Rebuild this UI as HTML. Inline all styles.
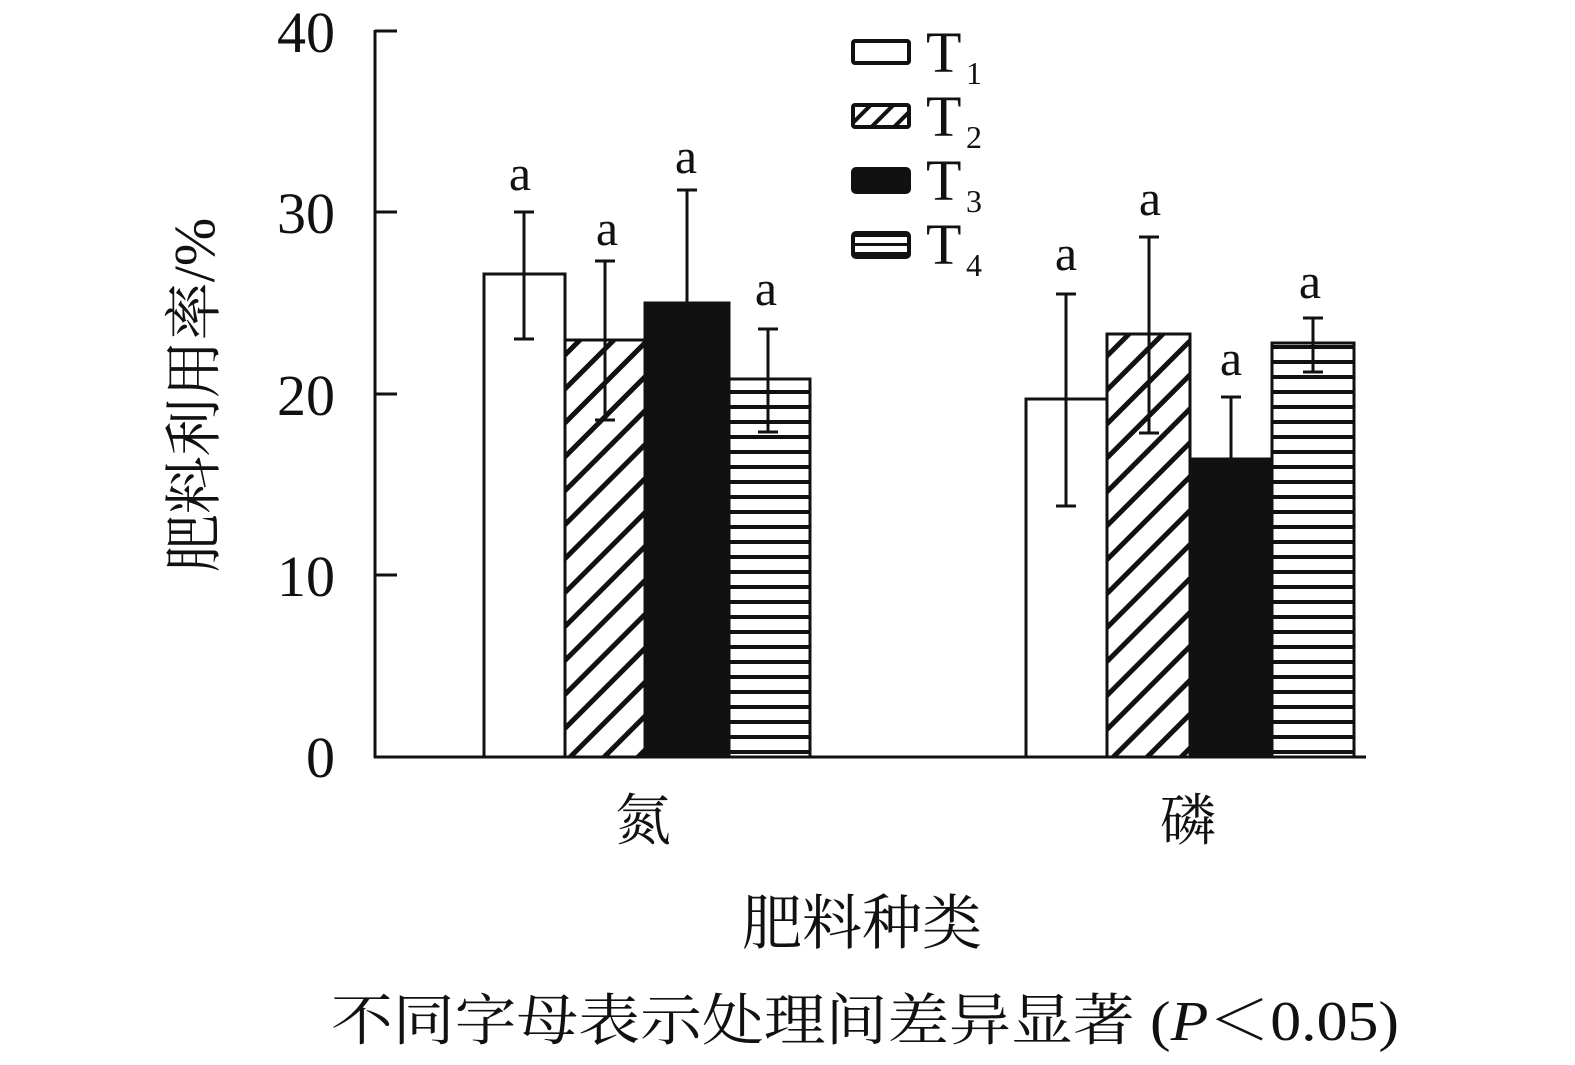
<!DOCTYPE html>
<html><head><meta charset="utf-8"><style>html,body{margin:0;padding:0;background:#fff}svg{display:block}</style></head>
<body>
<svg width="1575" height="1065" viewBox="0 0 1575 1065" xmlns="http://www.w3.org/2000/svg">
<defs>
<pattern id="diag" patternUnits="userSpaceOnUse" width="24" height="24" patternTransform="rotate(-45)">
<rect x="0" y="0" width="24" height="5" fill="#111"/>
</pattern>
<pattern id="horz" patternUnits="userSpaceOnUse" width="20" height="15">
<rect x="0" y="0" width="20" height="4" fill="#111"/>
</pattern>
<pattern id="diagS" patternUnits="userSpaceOnUse" width="16" height="16" patternTransform="rotate(-45)">
<rect x="0" y="0" width="16" height="4" fill="#111"/>
</pattern>
<pattern id="horzS" patternUnits="userSpaceOnUse" width="20" height="9">
<rect x="0" y="0" width="20" height="3" fill="#111"/>
</pattern>
</defs>
<g font-family="Liberation Serif, serif" fill="#111">
<g stroke="#111" stroke-width="3" fill="none">
<line x1="375" y1="30" x2="375" y2="758"/>
<line x1="374" y1="757" x2="1366" y2="757"/>
<line x1="375" y1="31" x2="397" y2="31"/>
<line x1="375" y1="212" x2="397" y2="212"/>
<line x1="375" y1="394" x2="397" y2="394"/>
<line x1="375" y1="575" x2="397" y2="575"/>
</g>
<g font-size="58" text-anchor="end">
<text x="335" y="52">40</text>
<text x="335" y="233">30</text>
<text x="335" y="415">20</text>
<text x="335" y="596">10</text>
<text x="335" y="777">0</text>
</g>
<g stroke="#111" stroke-width="3">
<rect x="484" y="274" width="81" height="483" fill="#fff"/>
<rect x="565" y="340" width="80" height="417" fill="url(#diag)"/>
<rect x="645" y="303" width="84" height="454" fill="#111"/>
<rect x="729" y="379" width="81" height="378" fill="url(#horz)"/>
<rect x="1026" y="399" width="81" height="358" fill="#fff"/>
<rect x="1107" y="334" width="83" height="423" fill="url(#diag)"/>
<rect x="1190" y="459" width="82" height="298" fill="#111"/>
<rect x="1272" y="343" width="82" height="414" fill="url(#horz)"/>
</g>
<g stroke="#111" stroke-width="3">
<path d="M524 212V339M514 212H534M514 339H534"/>
<path d="M605 261V420M595 261H615M595 420H615"/>
<path d="M687 190V303M677 190H697"/>
<path d="M768 329V432M758 329H778M758 432H778"/>
<path d="M1066 294V506M1056 294H1076M1056 506H1076"/>
<path d="M1149 237V433M1139 237H1159M1139 433H1159"/>
<path d="M1231 397V459M1221 397H1241"/>
<path d="M1313 318V372M1303 318H1323M1303 372H1323"/>
</g>
<g font-size="50" text-anchor="middle">
<text x="520" y="190">a</text>
<text x="607" y="245">a</text>
<text x="686" y="173">a</text>
<text x="766" y="305">a</text>
<text x="1066" y="270">a</text>
<text x="1150" y="215">a</text>
<text x="1231" y="375">a</text>
<text x="1310" y="298">a</text>
</g>
<g stroke="#111" stroke-width="4">
<rect x="853" y="41" width="56" height="22" rx="2" fill="#fff"/>
<rect x="853" y="105" width="56" height="22" rx="2" fill="url(#diagS)"/>
<rect x="853" y="169" width="56" height="23" rx="3" fill="#111"/>
<rect x="853" y="233" width="56" height="24" rx="3" fill="url(#horzS)"/>
</g>
<g font-size="58">
<text x="926" y="72">T</text><text x="966" y="84" font-size="32">1</text>
<text x="926" y="136">T</text><text x="966" y="148" font-size="32">2</text>
<text x="926" y="200">T</text><text x="966" y="212" font-size="32">3</text>
<text x="926" y="264">T</text><text x="966" y="276" font-size="32">4</text>
</g>
<g font-family="Liberation Serif, 'Noto Serif CJK SC', 'Noto Sans CJK SC', serif" text-anchor="middle">
<text x="643" y="840" font-size="56">氮</text>
<text x="1188" y="840" font-size="56">磷</text>
<text x="862" y="944" font-size="60">肥料种类</text>
<text x="865" y="1040" font-size="56" textLength="1068" lengthAdjust="spacingAndGlyphs">不同字母表示处理间差异显著 (<tspan font-style="italic">P</tspan>＜0.05)</text>
<text transform="translate(214,395) rotate(-90)" font-size="58">肥料利用率/%</text>
</g>
</g>
</svg>
</body></html>
